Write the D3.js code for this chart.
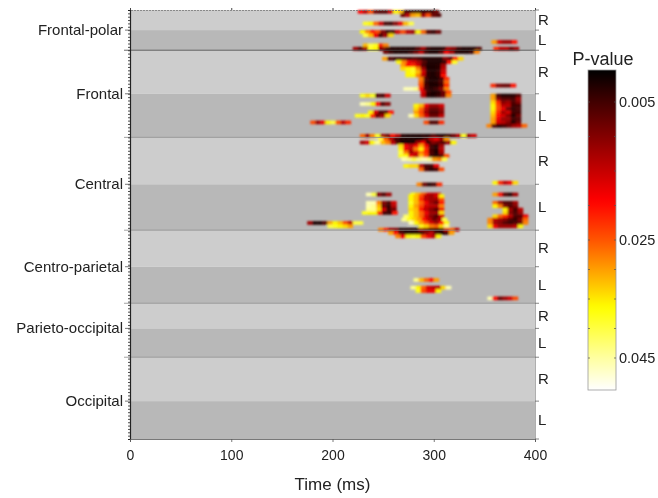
<!DOCTYPE html>
<html>
<head>
<meta charset="utf-8">
<script src="https://cdnjs.cloudflare.com/ajax/libs/d3/7.8.5/d3.min.js"></script>
<style>
body { margin: 0; background: #fff; }
svg { filter: blur(0.5px); }
text { font-family: "Liberation Sans", Arial, sans-serif; fill: #222; }
</style>
</head>
<body>
<div id="chart"></div>
<script>
var timeTicks = [0, 100, 200, 300, 400];
var regions = ["Frontal-polar", "Frontal", "Central", "Centro-parietal", "Parieto-occipital", "Occipital"];
// channel row at each region's start, R/L split and end
var regionEdges = [0, 12, 38, 65.7, 87.5, 103.6, 128];
var hemiSplits = [6, 25, 52, 76.6, 95, 116.7];
var rowCount = 128;
var binMs = 5;
var pTicks = [0.005, 0.025, 0.045];
var barMarks = [0.005, 0.01, 0.015, 0.02, 0.025, 0.03, 0.035, 0.04, 0.045];

// [channel row, first time bin (ms), p x 1000 for each 5 ms bin]
var framePolar = [
    [0, 225, [19,14,24,8,6,6,16,36,32,5,3,3,3,3,4,8]],
    [1, 267, [8,14,30,32,12,24,8,6]],
    [3.5, 230, [38,36,26,16,5,4,10,18,32,40]],
    [6, 227, [36,28,20,24,10,4,5,16,24,14,12,36,26,6,4,8]],
    [7, 230, [40,32,18,5,12,34]],
    [10, 230, [32,40,38,22,28]],
    [11, 220, [12,6,12,38,36,12]],
    [11, 247, [10,4,2,2,2,2,2,6,12,4,2,2,3,12,10,4,2,2,2,6]],
    [12, 250, [8,4,2,2,2,4,8,14,4,2,2,6,18,12,3,2,2,4,28]],
    [9, 357, [30,16,12,12,20]],
    [11, 359, [22,14,14,8,12]]
];
var frontalR = [
    [14, 249, [30,6,4,4,4,4,6,4,2,2,2,2,10,6,22,34]],
    [15, 263, [36,28,18,16,12,6,2,2,2,4,20,38]],
    [16, 267, [30,20,22,16,6,2,2,3,12]],
    [17, 267, [34,36,38,28,12,2,2,3,14]],
    [18, 272, [36,38,32,16,3,2,4,16]],
    [19, 272, [36,36,28,14,3,2,4,20]],
    [20, 285, [28,5,2,2,5,22]],
    [21, 285, [26,4,2,3,6,26]],
    [22, 285, [24,5,2,2,5,22]],
    [23, 270, [46,46,44]],
    [23, 285, [20,5,3,5,10,28]],
    [24, 287, [16,4,2,3,8,24]],
    [22, 356, [22,10,8,8,20]]
];
var frontalL = [
    [25, 287, [14,3,2,4,8,28]],
    [28, 280, [36,32,18,12,12,16]],
    [29, 280, [34,26,14,8,8,12]],
    [30, 280, [30,24,12,6,6,10]],
    [31, 275, [46,34,26,16,8,8,14]],
    [33, 290, [24,6,6,22]],
    [25, 227, [38,34,38,6,5,16]],
    [27.5, 227, [46,44,36,20,6,10]],
    [30, 235, [36,16,5,6,20]],
    [31, 222, [38,36,38,22,8,12,34]],
    [33, 178, [24,12,18,36,40,24,14,22]],
    [25, 356, [30,5,2,2,3,6]],
    [26, 356, [30,10,6,6,5,12]],
    [27, 356, [34,22,10,12,6,10]],
    [28, 356, [36,24,14,14,5,5]],
    [29, 356, [36,24,18,8,4,6]],
    [30, 356, [34,22,12,16,5,5]],
    [31, 356, [32,20,16,10,3,8]],
    [32, 356, [30,18,12,12,5,6]],
    [33, 356, [30,16,14,10,3,8]],
    [34, 352, [28,6,3,5,8,12,14,26]]
];
var centralR = [
    [37, 227, [26,12,28,38,12,8,20,14,3,2,2,2,3,2,6,2,2,4,8,14,38,12,16]],
    [38, 245, [40,26,14,4,2,2,2,2,2,6,14,18,12,30]],
    [39, 227, [12,16,36,44,32,28,14,6,2,2,2,12,18,4,10,8,6,12,36]],
    [40, 265, [34,18,14,18,30,18,5,3,12]],
    [41, 265, [36,18,14,28,36,22,5,3,14]],
    [42, 265, [40,28,12,16,28,22,6,2,12]],
    [43, 265, [38,36,18,14,32,24,5,3,6,24]],
    [44, 268, [46,44,40,44,46,44,30,28,40]],
    [46, 270, [36,34,34,14,5,5,18]],
    [47, 285, [26,6,3,5,24]],
    [51.5, 283, [28,8,3,5,22]],
    [51, 358, [36,22,14,18,34]]
];
var centralL = [
    [54.5, 233, [46,40,10,6,12]],
    [57, 233, [46,46,28,10,6,16]],
    [58, 233, [46,44,32,8,4,14]],
    [59, 233, [44,44,34,16,5,8]],
    [60, 229, [38,36,36,22,5,4,20]],
    [54.5, 277, [38,32,26,16,14,16]],
    [55, 275, [36,32,24,14,12,16,36]],
    [56, 275, [36,32,22,14,12,12,24]],
    [57, 275, [38,32,26,18,12,8,20]],
    [58, 275, [36,30,24,16,14,14,28]],
    [59, 275, [34,32,20,14,10,6,18]],
    [60, 275, [36,32,26,18,12,12,34]],
    [61, 270, [42,36,32,26,16,10,6,16]],
    [62, 268, [44,38,34,30,20,14,8,12,40]],
    [63, 275, [46,36,30,24,16,12,20,36]],
    [64, 285, [38,34,28,26,34,44]],
    [63, 175, [12,2,2,6,30,36,32,24,14,40,40]],
    [64, 195, [40,38,36,34,30]],
    [65, 245, [28,22,12,10,2,2,2,2,12,8,3,2,4,16,26,14]],
    [66, 255, [30,20,6,2,2,3,3,10,14,5,2,5,30]],
    [67, 262, [28,18,36,38,36,24,18,14,36]],
    [54.5, 358, [30,20,6,3,12]],
    [57, 358, [26,12,6,6,12]],
    [58, 358, [36,28,10,6,10]],
    [59, 368, [36,12,5,14]],
    [60, 368, [34,10,6,12]],
    [61, 358, [34,26,22,14,6,6,18]],
    [62, 353, [28,14,12,10,6,4,10,26]],
    [63, 353, [28,12,10,6,4,6,8,28]],
    [64, 353, [34,18,12,12,12,14,36]]
];
var centroParietal = [
    [80, 280, [44,32,26,20,30]],
    [82.3, 277, [44,36,26,16,14,14,34,46]],
    [83.3, 282, [38,24,18,18,36]],
    [85.5, 353, [46,20,8,12,16,24]]
];
var pRuns = [].concat(framePolar, frontalR, frontalL, centralR, centralL, centroParietal);

var width = 658, height = 498;
var plot = {left: 130, right: 535, top: 10, bottom: 439};

var x = d3.scaleLinear().domain([0, 400]).range([plot.left, plot.right]);
var y = d3.scaleLinear().domain([0, rowCount]).range([plot.top, plot.bottom]);
// p-value colours, same ramp on the heat cells and the colour bar
var color = d3.scaleLinear()
    .domain([0, 0.0193, 0.0365, 0.05])
    .range(["#000000", "#ff0000", "#ffff00", "#ffffff"]);
// the bar's printed ticks are not evenly spaced
var barY = d3.scaleLinear()
    .domain([0, 0.005, 0.025, 0.045, 0.05])
    .range([70, 102, 240, 358, 390]);

var svg = d3.select("#chart").append("svg")
    .attr("width", width)
    .attr("height", height);

var defs = svg.append("defs");
var blur = defs.append("filter")
    .attr("id", "soft")
    .attr("x", "-5%").attr("y", "-5%")
    .attr("width", "110%").attr("height", "110%");
blur.append("feGaussianBlur").attr("stdDeviation", 0.8);

// grey R/L bands
var bands = [];
regions.forEach(function(name, i) {
    bands.push({from: regionEdges[i], to: hemiSplits[i], fill: "#cdcdcd", side: "R"});
    bands.push({from: hemiSplits[i], to: regionEdges[i + 1], fill: "#b8b8b8", side: "L"});
});
svg.append("g").selectAll("rect")
    .data(bands)
    .enter().append("rect")
    .attr("x", plot.left)
    .attr("width", plot.right - plot.left)
    .attr("y", function(d) { return y(d.from); })
    .attr("height", function(d) { return y(d.to) - y(d.from); })
    .attr("fill", function(d) { return d.fill; });

// heat cells
var cells = [];
pRuns.forEach(function(run) {
    run[2].forEach(function(p, i) {
        cells.push({row: run[0], t: run[1] + i * binMs, p: p / 1000});
    });
});
svg.append("g").attr("filter", "url(#soft)")
    .selectAll("rect")
    .data(cells)
    .enter().append("rect")
    .attr("x", function(d) { return x(d.t); })
    .attr("width", x(binMs) - x(0) + 0.4)
    .attr("y", function(d) { return y(d.row); })
    .attr("height", y(1) - y(0) + 0.3)
    .attr("fill", function(d) { return color(d.p); });

// region separators
svg.append("g").selectAll("line")
    .data(regionEdges.slice(1, -1))
    .enter().append("line")
    .attr("x1", plot.left - 6)
    .attr("x2", plot.right)
    .attr("y1", function(d) { return y(d); })
    .attr("y2", function(d) { return y(d); })
    .attr("stroke", function(d, i) { return i === 0 ? "#444" : "#8c8c8c"; })
    .attr("stroke-width", 0.8);

// left axis: a small tick per channel
var leftAxis = d3.axisLeft(y)
    .tickValues(d3.range(0, rowCount + 1))
    .tickSize(2)
    .tickFormat("");
var gLeft = svg.append("g").attr("transform", "translate(" + plot.left + ",0)").call(leftAxis);
gLeft.selectAll("path, line").attr("stroke", "#222").attr("stroke-width", 0.8);
gLeft.select("path").attr("stroke-width", 1.2);

// region labels sit on the R/L split
svg.append("g").selectAll("line")
    .data(hemiSplits)
    .enter().append("line")
    .attr("x1", plot.left - 5)
    .attr("x2", plot.left)
    .attr("y1", function(d) { return y(d); })
    .attr("y2", function(d) { return y(d); })
    .attr("stroke", "#555")
    .attr("stroke-width", 0.8);
svg.append("g").selectAll("text")
    .data(regions)
    .enter().append("text")
    .attr("x", plot.left - 7)
    .attr("y", function(d, i) { return y(hemiSplits[i]) + 5; })
    .attr("text-anchor", "end")
    .attr("font-size", 15)
    .text(function(d) { return d; });

// right side R / L marks
svg.append("line")
    .attr("x1", plot.right + 0.5).attr("x2", plot.right + 0.5)
    .attr("y1", plot.top).attr("y2", plot.bottom)
    .attr("stroke", "#999").attr("stroke-width", 0.8);
svg.append("g").selectAll("line")
    .data(regionEdges.concat(hemiSplits))
    .enter().append("line")
    .attr("x1", plot.right)
    .attr("x2", plot.right + 4)
    .attr("y1", function(d) { return y(d); })
    .attr("y2", function(d) { return y(d); })
    .attr("stroke", "#666")
    .attr("stroke-width", 0.8);
svg.append("g").selectAll("text")
    .data(bands)
    .enter().append("text")
    .attr("x", plot.right + 3)
    .attr("y", function(d) { return (y(d.from) + y(d.to)) / 2 + 5; })
    .attr("font-size", 15)
    .text(function(d) { return d.side; });

// time axes
var bottomAxis = d3.axisBottom(x).tickValues(timeTicks).tickSize(3).tickPadding(8);
var gBottom = svg.append("g").attr("transform", "translate(0," + plot.bottom + ")").call(bottomAxis);
gBottom.selectAll("path, line").attr("stroke", "#555").attr("stroke-width", 0.8);
gBottom.selectAll("text").attr("font-size", 14).attr("font-family", null);

var gTop = svg.append("g").attr("transform", "translate(0," + plot.top + ")")
    .call(d3.axisTop(x).tickValues(timeTicks).tickSize(2).tickFormat(""));
gTop.select("path").attr("stroke", "#777").attr("stroke-dasharray", "2 1").attr("stroke-width", 0.8);
gTop.selectAll("line").attr("stroke", "#444");

svg.append("text")
    .attr("x", (plot.left + plot.right) / 2)
    .attr("y", 490)
    .attr("text-anchor", "middle")
    .attr("font-size", 17)
    .text("Time (ms)");

// colour bar, gradient stops placed through the bar's own scale
var barGrad = defs.append("linearGradient")
    .attr("id", "pramp")
    .attr("x1", 0).attr("x2", 0).attr("y1", 0).attr("y2", 1);
barGrad.selectAll("stop")
    .data(d3.range(0, 0.0501, 0.001))
    .enter().append("stop")
    .attr("offset", function(d) { return (barY(d) - barY(0)) / (barY(0.05) - barY(0)); })
    .attr("stop-color", function(d) { return color(d); });
svg.append("rect")
    .attr("x", 588).attr("y", barY(0))
    .attr("width", 28).attr("height", barY(0.05) - barY(0))
    .attr("fill", "url(#pramp)")
    .attr("stroke", "#999").attr("stroke-width", 0.8);
svg.append("g").selectAll("path")
    .data(barMarks)
    .enter().append("path")
    .attr("d", function(d) {
        var yy = barY(d);
        return "M588," + yy + "h2M614," + yy + "h2";
    })
    .attr("stroke", "#555")
    .attr("stroke-width", 0.7);
svg.append("text")
    .attr("x", 603).attr("y", 65)
    .attr("text-anchor", "middle")
    .attr("font-size", 18)
    .text("P-value");
svg.append("g").selectAll("text")
    .data(pTicks)
    .enter().append("text")
    .attr("x", 619)
    .attr("y", function(d) { return barY(d) + 5; })
    .attr("font-size", 14.5)
    .text(function(d) { return d3.format(".3f")(d); });
</script>
</body>
</html>
